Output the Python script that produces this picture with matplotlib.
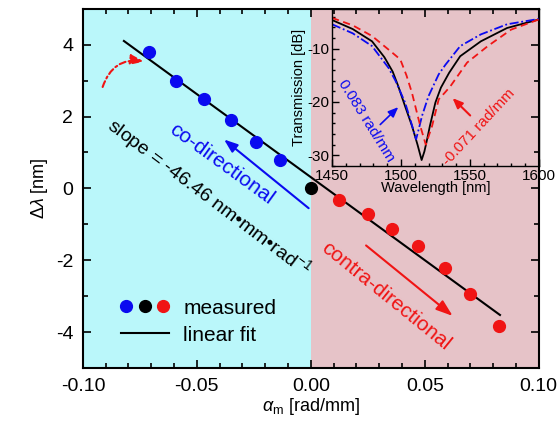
import numpy as np
import matplotlib
matplotlib.use("Agg")
import matplotlib.pyplot as plt
from matplotlib.lines import Line2D
from matplotlib.legend_handler import HandlerTuple
from matplotlib.ticker import MultipleLocator

plt.rcParams['font.family'] = ['Liberation Sans', 'DejaVu Sans']
plt.rcParams['mathtext.fontset'] = 'custom'
plt.rcParams['mathtext.rm'] = 'Liberation Sans'
plt.rcParams['mathtext.it'] = 'Liberation Sans:italic'
plt.rcParams['axes.unicode_minus'] = False

# measured shifts
co_x = [-0.071, -0.059, -0.047, -0.035, -0.024, -0.0136]
co_y = [3.81, 3.00, 2.49, 1.91, 1.30, 0.79]
zero_x = [0.0]
zero_y = [0.0]
contra_x = [0.0125, 0.025, 0.0356, 0.0472, 0.0589, 0.070, 0.0825]
contra_y = [-0.31, -0.70, -1.12, -1.61, -2.21, -2.93, -3.83]
fit_range = [-0.082, 0.083]

# inset spectra (wavelength nm, transmission dB)
wl_black = [1450, 1465, 1479, 1488, 1494, 1498, 1503, 1508, 1512, 1515, 1517, 1519,
            1521, 1525, 1529, 1535, 1543, 1558, 1577, 1600]
tr_black = [-4.6, -6.3, -8.6, -11.6, -14.3, -17.0, -20.8, -24.5, -28.0, -30.9, -29.3, -27.0,
            -24.5, -20.1, -17.3, -14.5, -11.4, -8.6, -6.1, -4.5]
wl_blue = [1450, 1465, 1479, 1491, 1496, 1503, 1507, 1511, 1513, 1515.3, 1520, 1527.4,
           1532.3, 1543, 1558, 1577, 1600]
tr_blue = [-5.4, -7.1, -9.5, -13.6, -16.0, -20.1, -23.5, -27.0, -25.0, -22.6, -18.9, -14.8,
           -13.0, -9.5, -7.3, -5.4, -4.4]
wl_red = [1450, 1465, 1479, 1494, 1499.5, 1504, 1508, 1514, 1518, 1520, 1522.6, 1527.4,
          1532, 1536, 1548, 1563, 1580, 1600]
tr_red = [-4.2, -5.6, -7.6, -10.8, -12.0, -15.0, -18.3, -24.5, -28.0, -26.5, -24.5, -19.5,
          -18.2, -17.0, -12.6, -9.5, -6.4, -4.5]

cyan = '#BAF7FA'
pink = '#E6C3C8'
blue = '#0A0AF0'
red = '#F01414'

fig = plt.figure(figsize=(5.6, 4.21), dpi=100)
ax = fig.add_axes([0.148, 0.126, 0.814, 0.853])
ax.axvspan(-0.1, 0, color=cyan, lw=0, zorder=0)
ax.axvspan(0, 0.1, color=pink, lw=0, zorder=0)

all_x = np.array(co_x + zero_x + contra_x)
all_y = np.array(co_y + zero_y + contra_y)
k, b = np.polyfit(all_x, all_y, 1)
fx = np.array(fit_range)
ax.plot(fx, k * fx + b, color='black', lw=1.5, zorder=3)

ax.plot(co_x, co_y, 'o', color=blue, ms=8.5, zorder=4)
ax.plot(zero_x, zero_y, 'o', color='black', ms=8.5, zorder=4)
ax.plot(contra_x, contra_y, 'o', color=red, ms=8.5, zorder=4)

ax.set_xlim(-0.1, 0.1)
ax.set_ylim(-5, 5)
ax.set_xticks([-0.10, -0.05, 0.00, 0.05, 0.10])
ax.set_xticklabels(['-0.10', '-0.05', '0.00', '0.05', '0.10'])
ax.set_yticks([-4, -2, 0, 2, 4])
ax.xaxis.set_minor_locator(MultipleLocator(0.01))
ax.yaxis.set_minor_locator(MultipleLocator(1))
ax.tick_params(which='both', direction='in', top=True, right=True, width=1.2)
ax.tick_params(which='major', length=6, labelsize=14, pad=7)
ax.tick_params(which='minor', length=3.5)
for s in ax.spines.values():
    s.set_linewidth(1.5)
ax.set_xlabel(r'$\alpha_{\mathrm{m}}$ [rad/mm]', fontsize=13, labelpad=1)
ax.set_ylabel(r'$\Delta\lambda$ [nm]', fontsize=13, labelpad=4)

# annotations
ax.text(-0.0447, -0.24, 'slope = -46.46 nm\u2022mm\u2022rad$^{-1}$', rotation=-37,
        rotation_mode='anchor', ha='center', va='center', fontsize=14, color='black', zorder=5)
ax.text(-0.039, 0.68, 'co-directional', rotation=-36, rotation_mode='anchor',
        ha='center', va='center', fontsize=15, color=blue, zorder=5)
ax.annotate('', xy=(-0.039, 1.41), xytext=(0.0, -0.6),
            arrowprops=dict(arrowstyle='-|>,head_length=0.8,head_width=0.3', color=blue, lw=1.5),
            zorder=5)
ax.text(0.033, -3.0, 'contra-directional', rotation=-39, rotation_mode='anchor',
        ha='center', va='center', fontsize=15, color=red, zorder=5)
ax.annotate('', xy=(0.0632, -3.6), xytext=(0.0233, -1.54),
            arrowprops=dict(arrowstyle='-|>,head_length=1.0,head_width=0.35', color=red, lw=1.5),
            zorder=5)
ax.annotate('', xy=(-0.0719, 3.52), xytext=(-0.0917, 2.75),
            arrowprops=dict(arrowstyle='-|>,head_length=0.8,head_width=0.3', color=red, lw=1.5,
                            linestyle=(0, (3, 1.5, 1, 1.5)), connectionstyle='arc3,rad=-0.45'),
            zorder=5)

h_meas = (Line2D([], [], ls='', marker='o', color=blue, ms=8.5),
          Line2D([], [], ls='', marker='o', color='black', ms=8.5),
          Line2D([], [], ls='', marker='o', color=red, ms=8.5))
h_fit = Line2D([], [], color='black', lw=1.5)
ax.legend([h_meas, h_fit], ['measured', 'linear fit'],
          handler_map={tuple: HandlerTuple(ndivide=None, pad=0.4)},
          loc='upper left', bbox_to_anchor=(0.06, 0.222), frameon=False, fontsize=15,
          handlelength=2.3, handletextpad=0.7, labelspacing=0.38, borderpad=0)

# inset
ins = fig.add_axes([0.593, 0.606, 0.369, 0.373])
ins.set_facecolor('none')
ins.plot(wl_black, tr_black, color='black', lw=1.3)
ins.plot(wl_blue, tr_blue, color=blue, lw=1.3, ls=(0, (5, 1.5, 1, 1.5)))
ins.plot(wl_red, tr_red, color=red, lw=1.3, ls=(0, (4, 2.5)))
ins.set_xlim(1450, 1600)
ins.set_ylim(-32, -2.5)
ins.set_xticks([1450, 1500, 1550, 1600])
ins.set_yticks([-30, -20, -10])
ins.xaxis.set_minor_locator(MultipleLocator(10))
ins.yaxis.set_minor_locator(MultipleLocator(2))
ins.tick_params(which='both', direction='in', labelsize=11, pad=2, width=1)
ins.tick_params(which='major', length=5)
ins.tick_params(which='minor', length=2.5)
for s in ins.spines.values():
    s.set_linewidth(1)
ins.set_xlabel('Wavelength [nm]', fontsize=10.5, labelpad=-1)
ins.set_ylabel('Transmission [dB]', fontsize=10.5, labelpad=1)

ins.text(1474.8, -23.6, '0.083 rad/mm', rotation=-58, rotation_mode='anchor',
         ha='center', va='center', fontsize=11, color=blue)
ins.annotate('', xy=(1499.5, -20.6), xytext=(1483.5, -24.6),
             arrowprops=dict(arrowstyle='-|>,head_length=0.6,head_width=0.25', color=blue, lw=1.2))
ins.text(1556.3, -24.8, '-0.071 rad/mm', rotation=47, rotation_mode='anchor',
         ha='center', va='center', fontsize=11, color=red)
ins.annotate('', xy=(1536, -18.9), xytext=(1551.7, -22.9),
             arrowprops=dict(arrowstyle='-|>,head_length=0.6,head_width=0.25', color=red, lw=1.5))

fig.savefig('out.png', dpi=100)
